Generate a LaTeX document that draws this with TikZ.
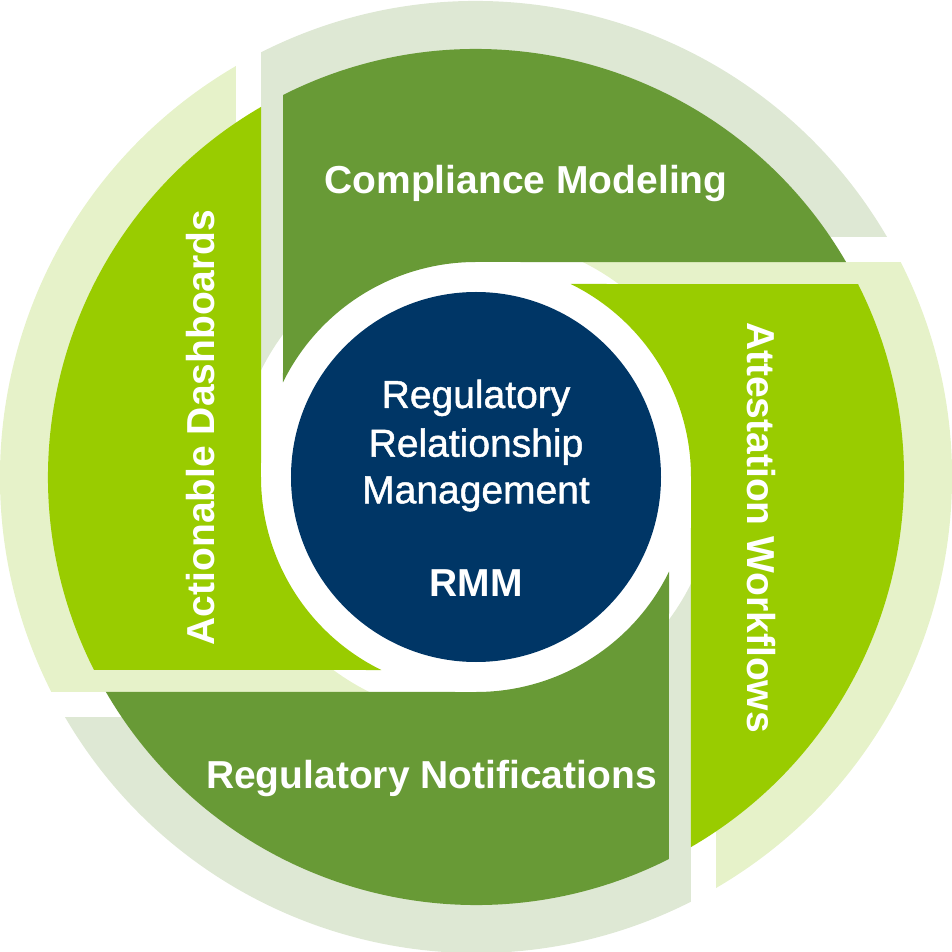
\documentclass[tikz,border=0pt]{standalone}
\usepackage{fontspec}
\setmainfont{Liberation Sans}
\newfontfamily\medfont{Liberation Sans}[RawFeature={embolden=1.2}]
\definecolor{dkgreen}{RGB}{104,154,54}
\definecolor{limegr}{RGB}{153,204,0}
\definecolor{palelime}{RGB}{230,242,201}
\definecolor{palegreen}{RGB}{222,232,212}
\definecolor{navyb}{RGB}{0,54,102}
\tikzset{
  seglabel/.style={text=white, font=\fontsize{39}{47}\selectfont\bfseries, inner sep=0pt, anchor=base},
  corelabel/.style={text=white, font=\medfont\fontsize{39}{47}\selectfont, inner sep=0pt, anchor=base},
}
\begin{document}
\begin{tikzpicture}
\useasboundingbox (-476pt,-475pt) rectangle (476pt,477pt);
% pale outer bands
\foreach \a/\pc in {0/palelime,90/palegreen,180/palelime,270/palegreen}
  \fill[\pc, rotate=\a] (63.61:240pt) -- (26.85:476pt)
     arc[start angle=26.85, end angle=-59.72, radius=476pt]
     -- (0:240pt) arc[start angle=0, end angle=63.61, radius=240pt] -- cycle;
% coloured segments
\foreach \a/\cc in {0/limegr,90/dkgreen,180/limegr,270/dkgreen}
  \fill[\cc, rotate=\a] (63.86:215pt) -- (26.80:428pt)
     arc[start angle=26.80, end angle=-59.85, radius=428pt]
     -- (0:215pt) arc[start angle=0, end angle=63.86, radius=215pt] -- cycle;
% core
\node[circle, fill=navyb, minimum size=370pt, inner sep=0pt] (core) at (0,0) {};
\node[corelabel] (l1) at (0pt,69pt) {Regulatory};
\node[corelabel] (l2) at (0pt,20.3pt) {Relationship};
\node[corelabel] (l3) at (0pt,-26.3pt) {Management};
\node[corelabel, font=\fontsize{39}{47}\selectfont\bfseries] (l4) at (0pt,-119.7pt) {RMM};
% segment labels
\node[seglabel] (comp) at (50pt,283pt) {Compliance Modeling};
\node[seglabel] (notif) at (-44.5pt,-311pt) {Regulatory Notifications};
\node[seglabel, rotate=90] (dash) at (-261pt,49.5pt) {Actionable Dashboards};
\node[seglabel, rotate=-90] (attest) at (271pt,-50.5pt) {Attestation Workflows};
\end{tikzpicture}
\end{document}
